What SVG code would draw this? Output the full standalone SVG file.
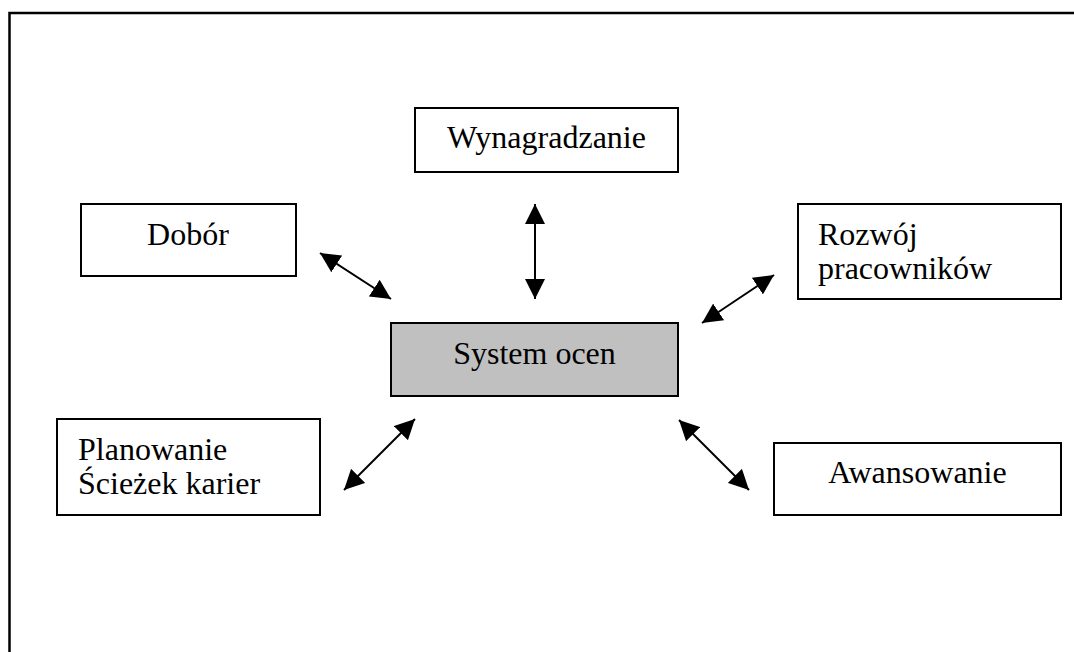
<svg xmlns="http://www.w3.org/2000/svg" width="1074" height="652" viewBox="0 0 1074 652">
  <style>
    .box { fill: #ffffff; stroke: #000000; stroke-width: 2; }
    .core { fill: #c0c0c0; stroke: #000000; stroke-width: 2; }
    .lbl { font-family: "Liberation Serif", "Times New Roman", serif; font-size: 32px; fill: #000000; }
    .mid { text-anchor: middle; }
    .link { stroke: #000000; stroke-width: 2; fill: none; marker-start: url(#head); marker-end: url(#head); }
  </style>
  <defs>
    <marker id="head" viewBox="0 0 20 20" markerWidth="20" markerHeight="20" markerUnits="userSpaceOnUse" refX="20" refY="10" orient="auto-start-reverse">
      <path d="M0,0 L20,10 L0,20 z" fill="#000000"/>
    </marker>
  </defs>

  <rect width="1074" height="652" fill="#ffffff"/>
  <!-- outer frame -->
  <path d="M9.5,652 L9.5,13 L1074,13" fill="none" stroke="#000000" stroke-width="2.5"/>

  <g id="wynagradzanie">
    <rect class="box" x="415" y="108" width="263" height="64"/>
    <text class="lbl mid" x="546.5" y="148">Wynagradzanie</text>
  </g>

  <g id="dobor">
    <rect class="box" x="81" y="204" width="215" height="72"/>
    <text class="lbl mid" x="188" y="245">Dobór</text>
  </g>

  <g id="rozwoj">
    <rect class="box" x="798" y="204" width="263" height="95"/>
    <text class="lbl" x="818" y="245">Rozwój</text>
    <text class="lbl" x="818" y="279">pracowników</text>
  </g>

  <g id="system-ocen">
    <rect class="core" x="391" y="323" width="287" height="73"/>
    <text class="lbl mid" x="534.5" y="364">System ocen</text>
  </g>

  <g id="planowanie">
    <rect class="box" x="57" y="419" width="263" height="96"/>
    <text class="lbl" x="78" y="460">Planowanie</text>
    <text class="lbl" x="78" y="494">Ścieżek karier</text>
  </g>

  <g id="awansowanie">
    <rect class="box" x="774" y="443" width="287" height="72"/>
    <text class="lbl mid" x="917.5" y="483">Awansowanie</text>
  </g>

  <g id="connectors">
    <line class="link" x1="535" y1="204" x2="535" y2="299"/>
    <line class="link" x1="320" y1="253" x2="391" y2="299"/>
    <line class="link" x1="774" y1="275" x2="702" y2="323"/>
    <line class="link" x1="415" y1="419" x2="344" y2="490"/>
    <line class="link" x1="679" y1="420" x2="749" y2="490"/>
  </g>
</svg>
